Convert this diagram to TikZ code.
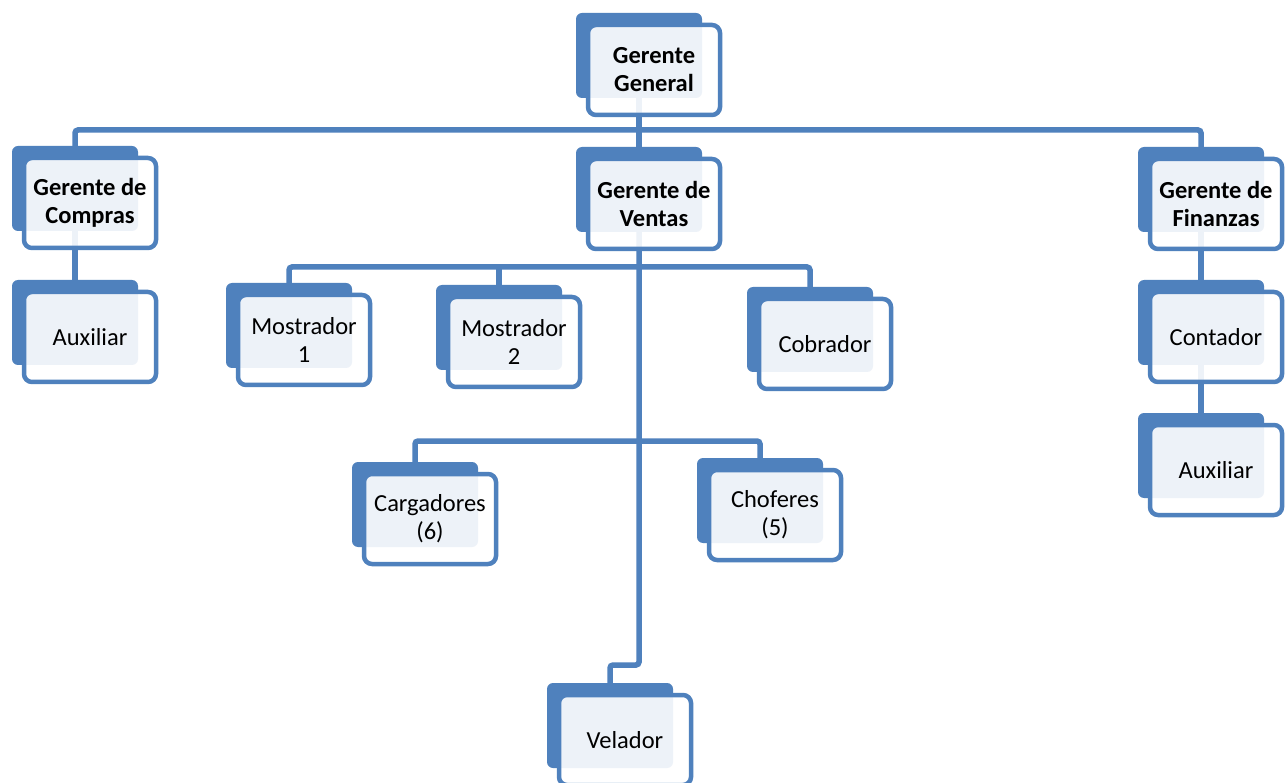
\documentclass[tikz,border=0pt]{standalone}
\usepackage{fontspec}
\setmainfont{Carlito}
\definecolor{orgblue}{HTML}{4F81BD}
\newcommand\backbox[3]{\node[backbox] (#1) at (#2+63,#3+42.5) {};}
\newcommand\frontbox[3]{\node[frontbox,#3,xshift=15pt,yshift=-14.5pt] (#1-t) at (#1.center) {#2};}
\begin{document}
\begin{tikzpicture}[x=1pt,y=-1pt,
  backbox/.style={fill=orgblue, rounded corners=6pt, minimum width=126pt,
    minimum height=85pt, inner sep=0pt, outer sep=0pt},
  frontbox/.style={draw=orgblue, line width=4.5pt, fill=white, fill opacity=0.9,
    text opacity=1, rounded corners=8pt, minimum width=132pt, minimum height=90pt,
    inner sep=0pt, align=center},
  plain/.style={font=\fontsize{24.5}{28}\selectfont},
  head/.style={font=\fontsize{24.5}{28}\selectfont\bfseries},
  conn/.style={draw=orgblue, line width=5.5pt, rounded corners=3pt}]
\clip (0,0) rectangle (1285,783);
\fill[white] (0,0) rectangle (1285,783);

% back plates
\backbox{gg}{576}{13}
\backbox{gc}{12}{146}
\backbox{gv}{576}{147}
\backbox{gf}{1138}{147}
\backbox{aux1}{12}{280}
\backbox{mos1}{226}{283}
\backbox{mos2}{436}{285}
\backbox{cob}{747}{287}
\backbox{cont}{1138}{280}
\backbox{aux2}{1138}{413}
\backbox{carg}{352}{462}
\backbox{chof}{697}{458}
\backbox{vel}{547}{683}

% bus levels
\coordinate (busA) at (0,130);
\coordinate (busB) at (0,267);
\coordinate (busC) at (0,441);
\coordinate (busD) at (0,665);

% connectors
\draw[conn] (gc.north) -- (gc.north |- busA) -- (gf.north |- busA) -- (gf.north);
\draw[conn] (gg.south) -- (gg.south |- busA);
\draw[conn] (gv.north) -- (gv.north |- busA);
\draw[conn] (gc.south) -- (aux1.north);
\draw[conn] (gf.south) -- (cont.north);
\draw[conn] (cont.south) -- (aux2.north);
\draw[conn] (mos1.north) -- (mos1.north |- busB) -- (cob.north |- busB) -- (cob.north);
\draw[conn] (mos2.north) -- (mos2.north |- busB);
\draw[conn] (carg.north) -- (carg.north |- busC) -- (chof.north |- busC) -- (chof.north);
\draw[conn] (gv.south) -- (gv.south |- busD) -- (vel.north |- busD) -- (vel.north);

% front cards with labels
\frontbox{gg}{Gerente\\General}{head}
\frontbox{gc}{Gerente de\\Compras}{head}
\frontbox{gv}{Gerente de\\Ventas}{head}
\frontbox{gf}{Gerente de\\Finanzas}{head}
\frontbox{aux1}{Auxiliar}{plain}
\frontbox{mos1}{Mostrador\\1}{plain}
\frontbox{mos2}{Mostrador\\2}{plain}
\frontbox{cob}{Cobrador}{plain}
\frontbox{cont}{Contador}{plain}
\frontbox{aux2}{Auxiliar}{plain}
\frontbox{carg}{Cargadores\\(6)}{plain}
\frontbox{chof}{Choferes\\(5)}{plain}
\frontbox{vel}{Velador}{plain}
\end{tikzpicture}
\end{document}
